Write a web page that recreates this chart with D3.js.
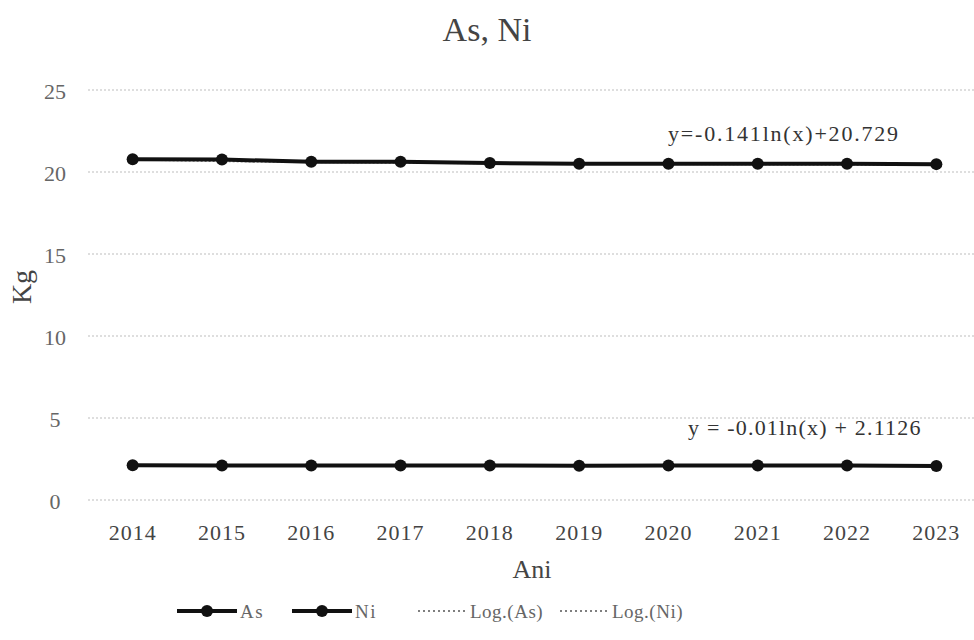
<!DOCTYPE html>
<html><head><meta charset="utf-8">
<script src="https://cdn.jsdelivr.net/npm/d3@7"></script>
<style>body{margin:0;background:#fff}svg{display:block}</style>
</head><body><svg id="c" width="974" height="640"></svg>
<script>
const years = ["2014","2015","2016","2017","2018","2019","2020","2021","2022","2023"];
const asValues = [2.12, 2.11, 2.10, 2.10, 2.10, 2.09, 2.10, 2.10, 2.11, 2.08];
const niValues = [20.78, 20.76, 20.62, 20.62, 20.55, 20.50, 20.50, 20.50, 20.50, 20.48];
const yTicks = [0, 5, 10, 15, 20, 25];
const trendAs = {a: -0.01, b: 2.1126, label: "y = -0.01ln(x) + 2.1126"};
const trendNi = {a: -0.141, b: 20.729, label: "y=-0.141ln(x)+20.729"};

const svg = d3.select("#c");
const font = "'Liberation Serif','Times New Roman',serif";
const L = 88, R = 981, T = 90, B = 500;
const x = d3.scaleBand().domain(years).range([L, R]);
const y = d3.scaleLinear().domain([0, 25]).range([B, T]);
const cx = d => x(d) + x.bandwidth() / 2;

// gridlines
svg.append("g").selectAll("line").data(yTicks).join("line")
  .attr("x1", L).attr("x2", 974).attr("y1", d => y(d)).attr("y2", d => y(d))
  .attr("stroke", "#bdbdbd").attr("stroke-width", 1).attr("stroke-dasharray", "2,2");

// y tick labels
svg.append("g").selectAll("text").data(yTicks).join("text")
  .attr("x", 55).attr("y", d => y(d) + 9).attr("text-anchor", "middle")
  .attr("font-family", font).attr("font-size", 22).attr("fill", "#666").text(d => d);

// x tick labels
svg.append("g").selectAll("text").data(years).join("text")
  .attr("x", d => cx(d)).attr("y", 540).attr("text-anchor", "middle")
  .attr("font-family", font).attr("font-size", 22).attr("letter-spacing", 1).attr("fill", "#444").text(d => d);

// title & axis titles
svg.append("text").attr("x", 487).attr("y", 41).attr("text-anchor", "middle")
  .attr("font-family", font).attr("font-size", 34).attr("fill", "#444").text("As, Ni");
svg.append("text").attr("x", 532).attr("y", 578).attr("text-anchor", "middle")
  .attr("font-family", font).attr("font-size", 26).attr("fill", "#444").text("Ani");
svg.append("text").attr("transform", "translate(31,287) rotate(-90)").attr("text-anchor", "middle")
  .attr("font-family", font).attr("font-size", 28).attr("fill", "#444").text("Kg");

// trendlines
function trend(t) {
  const pts = years.map((d, i) => [cx(d), y(t.a * Math.log(i + 1) + t.b)]);
  svg.append("path").attr("d", d3.line()(pts)).attr("fill", "none")
    .attr("stroke", "#777").attr("stroke-width", 1).attr("stroke-dasharray", "2,2");
}
trend(trendAs); trend(trendNi);

// series
function series(vals) {
  const line = d3.line().x((d, i) => cx(years[i])).y(d => y(d));
  svg.append("path").datum(vals).attr("d", line).attr("fill", "none")
    .attr("stroke", "#111").attr("stroke-width", 4);
  svg.append("g").selectAll("circle").data(vals).join("circle")
    .attr("cx", (d, i) => cx(years[i])).attr("cy", d => y(d)).attr("r", 6)
    .attr("fill", "#111");
}
series(asValues); series(niValues);

// equations
svg.append("text").attr("x", 668).attr("y", 141).attr("font-family", font)
  .attr("font-size", 22).attr("letter-spacing", 1.8).attr("fill", "#333").text(trendNi.label);
svg.append("text").attr("x", 688).attr("y", 435).attr("font-family", font)
  .attr("font-size", 22).attr("letter-spacing", 1.2).attr("fill", "#333").text(trendAs.label);

// legend
const lg = svg.append("g").attr("font-family", font).attr("font-size", 19).attr("fill", "#666");
function legSolid(x0, label) {
  lg.append("line").attr("x1", x0).attr("x2", x0 + 60).attr("y1", 611).attr("y2", 611)
    .attr("stroke", "#111").attr("stroke-width", 4);
  lg.append("circle").attr("cx", x0 + 30).attr("cy", 611).attr("r", 6).attr("fill", "#111");
  lg.append("text").attr("x", x0 + 63).attr("y", 618).attr("letter-spacing", 1.5).text(label);
}
function legDot(x0, label) {
  lg.append("line").attr("x1", x0).attr("x2", x0 + 50).attr("y1", 611).attr("y2", 611)
    .attr("stroke", "#555").attr("stroke-width", 1.5).attr("stroke-dasharray", "2,3");
  lg.append("text").attr("x", x0 + 52).attr("y", 618).attr("letter-spacing", 0.5).text(label);
}
legSolid(177, "As"); legSolid(292, "Ni"); legDot(418, "Log.(As)"); legDot(560, "Log.(Ni)");
</script></body></html>
